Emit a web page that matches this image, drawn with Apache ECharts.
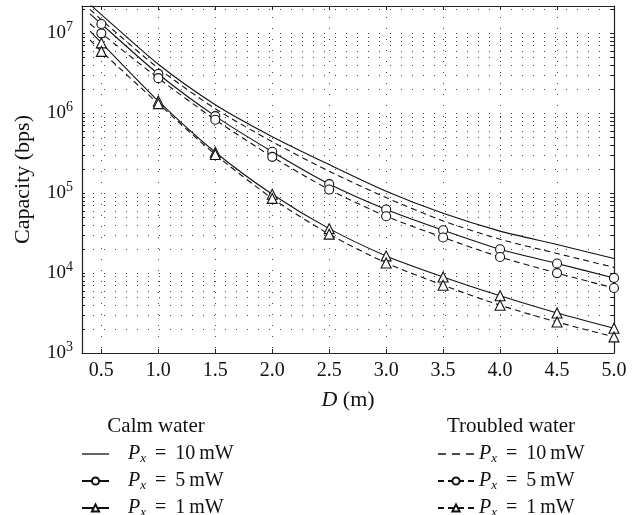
<!DOCTYPE html>
<html>
<head>
<meta charset="utf-8">
<script src="https://cdn.jsdelivr.net/npm/echarts@6/dist/echarts.min.js"></script>
<style>
  html, body { margin: 0; padding: 0; background: #fff; }
  #chart { width: 643px; height: 515px; }
</style>
</head>
<body>
<div id="chart"></div>
<script>
// distance D (m); first point is where the curves start, left of the first marker
const distances = [0.4, 0.5, 1.0, 1.5, 2.0, 2.5, 3.0, 3.5, 4.0, 4.5, 5.0]

// capacity (bps)
const calm10 = [2.3e7, 1.72e7, 4.1e6, 1.28e6, 5.1e5, 2.28e5, 1.06e5, 5.6e4, 3.35e4, 2.28e4, 1.52e4]
const calm5 = [1.75e7, 1.31e7, 3.1e6, 9.2e5, 3.3e5, 1.3e5, 6.25e4, 3.44e4, 1.99e4, 1.32e4, 8.7e3]
const calm1 = [1.07e7, 7.6e6, 1.42e6, 3.25e5, 9.7e4, 3.6e4, 1.64e4, 8.95e3, 5.2e3, 3.17e3, 2.04e3]
const troubled10 = [2.0e7, 1.48e7, 3.65e6, 1.14e6, 4.4e5, 1.88e5, 8.8e4, 4.5e4, 2.65e4, 1.76e4, 1.18e4]
const troubled5 = [1.32e7, 1.0e7, 2.75e6, 8.3e5, 2.85e5, 1.11e5, 5.15e4, 2.79e4, 1.59e4, 1.0e4, 6.5e3]
const troubled1 = [8.3e6, 5.95e6, 1.32e6, 3.05e5, 8.6e4, 3.07e4, 1.34e4, 7.05e3, 3.96e3, 2.44e3, 1.59e3]

const xTicks = [0.5, 1.0, 1.5, 2.0, 2.5, 3.0, 3.5, 4.0, 4.5, 5.0]
const yMajor = [1e3, 1e4, 1e5, 1e6, 1e7]
const yMinorFactors = [1, 2, 3, 4, 5, 6, 7, 8, 9]

const powerLabels = {
  calm10: '10', calm5: '5', calm1: '1',
  troubled10: '10', troubled5: '5', troubled1: '1'
}

const FONT = "'Liberation Serif', 'DejaVu Serif', serif"
const INK = '#111'
const X_MIN = 0.33
const Y_MAX = 2.2e7

// legend icons for the plain (marker-less) lines
const SOLID_ICON = 'path://M0,0H27V1.3H0Z'
const DASH_ICON = 'path://M0,0H8V1.3H0Z M14,0H22V1.3H14Z M28,0H36V1.3H28Z'

// all grid values 2..9 x 10^k plus the decades
const yGrid = []
yMajor.forEach(d => {
  yMinorFactors.forEach(f => {
    if (d * f <= Y_MAX) yGrid.push(d * f)
  })
})

function pairs(values, withMarker) {
  return distances.map((d, i) => {
    const item = { value: [d, values[i]] }
    // no marker on the lead-in point
    if (withMarker && i === 0) item.symbol = 'none'
    return item
  })
}

function makeSeries(name, values, symbol, dashed) {
  const marked = symbol !== 'none'
  return {
    name: name,
    type: 'line',
    data: pairs(values, marked),
    symbol: symbol,
    symbolSize: symbol === 'triangle' ? 10 : 9,
    showSymbol: marked,
    smooth: 0.25,
    clip: true,
    silent: true,
    animation: false,
    itemStyle: marked
      ? { color: '#fff', borderColor: INK, borderWidth: 1.1 }
      : { color: INK },
    lineStyle: { color: INK, width: 1.1, type: dashed ? [6, 4] : 'solid' },
    emphasis: { disabled: true }
  }
}

const legendRich = {
  gap: { width: 14 },
  p: { fontFamily: FONT, fontStyle: 'italic', fontSize: 20, lineHeight: 22, color: INK },
  s: { fontFamily: FONT, fontStyle: 'italic', fontSize: 13, lineHeight: 13, verticalAlign: 'bottom', color: INK },
  t: { fontFamily: FONT, fontSize: 20, lineHeight: 22, color: INK }
}

function legendText(name, lead) {
  return (lead ? '{gap|}' : '') + '{p|P}{s|x}{t| \u2009=\u2009 ' + powerLabels[name] + '\u2009mW}'
}

function legendBlock(items, left, width, lead) {
  return {
    data: items,
    orient: 'vertical',
    left: left,
    top: 444,
    height: 100,
    padding: 0,
    itemWidth: width,
    itemHeight: 9,
    itemGap: 6,
    selectedMode: false,
    formatter: name => legendText(name, lead),
    textStyle: { rich: legendRich }
  }
}

const chart = echarts.init(document.getElementById('chart'), null, { renderer: 'canvas' })

chart.setOption({
  backgroundColor: '#fff',
  animation: false,
  grid: { left: 82, right: 29, top: 6, bottom: 162 },
  graphic: [
    {
      type: 'text', x: 156, y: 426,
      style: { text: 'Calm water', font: '21px ' + FONT, fill: INK, align: 'center', verticalAlign: 'middle' }
    },
    {
      type: 'text', x: 511, y: 426,
      style: { text: 'Troubled water', font: '21px ' + FONT, fill: INK, align: 'center', verticalAlign: 'middle' }
    }
  ],
  legend: [
    legendBlock([{ name: 'calm10', icon: SOLID_ICON }, 'calm5', 'calm1'], 81, 27, true),
    legendBlock([{ name: 'troubled10', icon: DASH_ICON }, 'troubled5', 'troubled1'], 437, 36, false)
  ],
  xAxis: [
    {
      type: 'value',
      min: X_MIN,
      max: 5,
      position: 'bottom',
      name: '{i|D} (m)',
      nameLocation: 'middle',
      nameGap: 36,
      nameTextStyle: {
        fontFamily: FONT, fontSize: 22, color: INK,
        rich: { i: { fontFamily: FONT, fontStyle: 'italic', fontSize: 22, color: INK } }
      },
      axisLine: { show: true, onZero: false, lineStyle: { color: '#222', width: 1.2 } },
      axisTick: { show: true, inside: true, length: 4, customValues: xTicks, lineStyle: { color: '#222' } },
      axisLabel: {
        customValues: xTicks,
        margin: 8,
        fontFamily: FONT, fontSize: 20, color: INK,
        formatter: v => v.toFixed(1)
      },
      splitLine: { show: true, lineStyle: { color: '#444', width: 1, type: [1, 10] } }
    },
    {
      type: 'value',
      min: X_MIN,
      max: 5,
      position: 'top',
      axisLine: { show: true, onZero: false, lineStyle: { color: '#222', width: 1.2 } },
      axisTick: { show: true, inside: true, length: 4, customValues: xTicks, lineStyle: { color: '#222' } },
      axisLabel: { show: false },
      splitLine: { show: false }
    }
  ],
  yAxis: [
    {
      type: 'log',
      logBase: 10,
      min: 1e3,
      max: Y_MAX,
      position: 'left',
      name: 'Capacity (bps)',
      nameLocation: 'middle',
      nameGap: 48,
      nameRotate: 90,
      nameTextStyle: { fontFamily: FONT, fontSize: 22, color: INK },
      axisLine: { show: true, onZero: false, lineStyle: { color: '#222', width: 1.2 } },
      axisTick: { show: true, inside: true, length: 3, customValues: yGrid, lineStyle: { color: '#222' } },
      axisLabel: {
        customValues: yMajor,
        margin: 9,
        formatter: v => '{b|10}{sup|' + Math.round(Math.log10(v)) + '}',
        rich: {
          b: { fontFamily: FONT, fontSize: 19, lineHeight: 26, color: INK },
          sup: { fontFamily: FONT, fontSize: 14, lineHeight: 14, verticalAlign: 'top', color: INK }
        }
      },
      splitLine: { show: true, lineStyle: { color: '#444', width: 1, type: [1, 10] } }
    },
    {
      type: 'log',
      logBase: 10,
      min: 1e3,
      max: Y_MAX,
      position: 'right',
      axisLine: { show: true, onZero: false, lineStyle: { color: '#222', width: 1.2 } },
      axisTick: { show: true, inside: true, length: 3, customValues: yGrid, lineStyle: { color: '#222' } },
      axisLabel: { show: false },
      splitLine: { show: false }
    }
  ],
  series: [
    makeSeries('calm10', calm10, 'none', false),
    makeSeries('calm5', calm5, 'circle', false),
    makeSeries('calm1', calm1, 'triangle', false),
    makeSeries('troubled10', troubled10, 'none', true),
    makeSeries('troubled5', troubled5, 'circle', true),
    makeSeries('troubled1', troubled1, 'triangle', true)
  ]
})
</script>
</body>
</html>
